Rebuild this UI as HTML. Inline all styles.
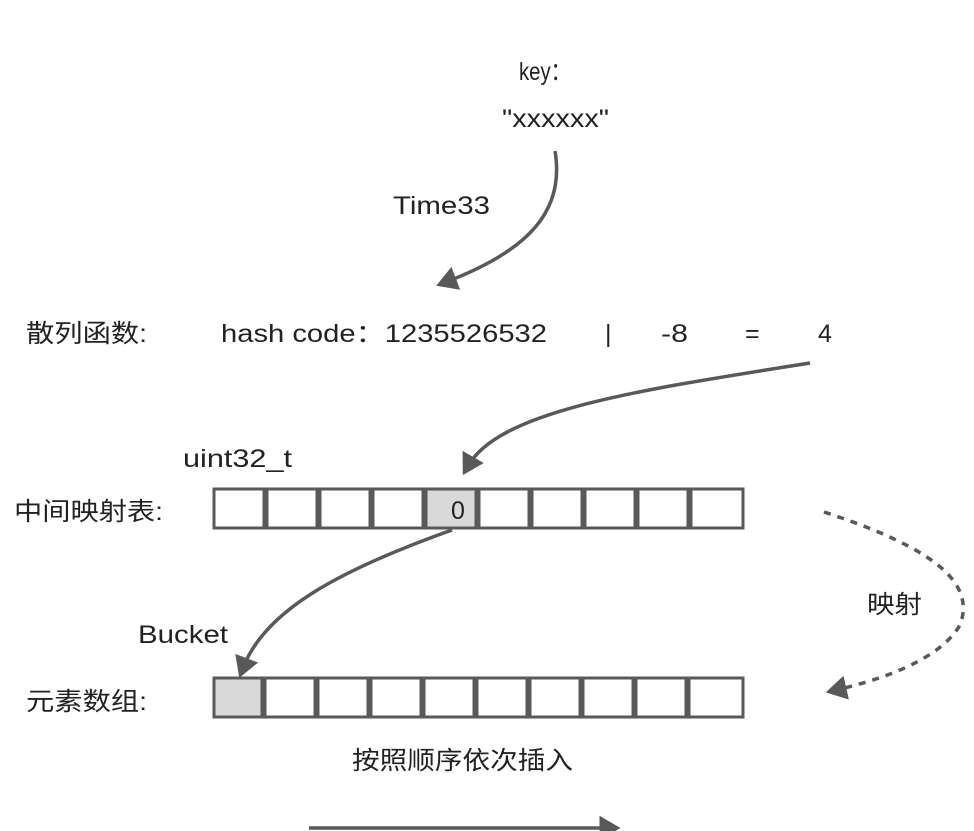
<!DOCTYPE html>
<html><head><meta charset="utf-8"><style>
html,body{margin:0;padding:0;background:#fff;}
svg{display:block}
text{font-family:"Liberation Sans","Noto Sans CJK SC",sans-serif;font-size:25px;fill:#222;}
</style></head><body>
<svg width="974" height="831" viewBox="0 0 974 831" xmlns="http://www.w3.org/2000/svg">
<defs>
<marker id="ah" markerWidth="8" markerHeight="8" refX="3" refY="4" orient="auto" markerUnits="strokeWidth">
<path d="M0,0.5 L6,4 L0,7.5 Z" fill="#595959"/></marker>
</defs>
<text x="519" y="80" textLength="52" lengthAdjust="spacingAndGlyphs">key：</text>
<text x="502" y="127" textLength="107" lengthAdjust="spacingAndGlyphs">"xxxxxx"</text>
<text x="393" y="214" textLength="97" lengthAdjust="spacingAndGlyphs">Time33</text>
<text x="26" y="342" textLength="121" lengthAdjust="spacingAndGlyphs">散列函数:</text>
<text x="221" y="342" textLength="326" lengthAdjust="spacingAndGlyphs">hash code：1235526532</text>
<text x="605" y="342">|</text>
<text x="661" y="342" textLength="27" lengthAdjust="spacingAndGlyphs">-8</text>
<text x="745" y="342">=</text>
<text x="818" y="342">4</text>
<text x="183" y="467" textLength="109" lengthAdjust="spacingAndGlyphs">uint32_t</text>
<text x="14" y="520" textLength="149" lengthAdjust="spacingAndGlyphs">中间映射表:</text>
<text x="138" y="643" textLength="90" lengthAdjust="spacingAndGlyphs">Bucket</text>
<text x="26" y="710" textLength="121" lengthAdjust="spacingAndGlyphs">元素数组:</text>
<text x="867" y="613" textLength="55" lengthAdjust="spacingAndGlyphs">映射</text>
<text x="352" y="769" textLength="221" lengthAdjust="spacingAndGlyphs">按照顺序依次插入</text>

<g fill="#fff" stroke="#595959" stroke-width="3">
<rect x="214" y="489" width="50" height="39"/>
<rect x="267" y="489" width="50" height="39"/>
<rect x="320" y="489" width="50" height="39"/>
<rect x="373" y="489" width="50" height="39"/>
<rect x="426" y="489" width="50" height="39" fill="#d9d9d9"/>
<rect x="479" y="489" width="50" height="39"/>
<rect x="532" y="489" width="50" height="39"/>
<rect x="585" y="489" width="50" height="39"/>
<rect x="638" y="489" width="50" height="39"/>
<rect x="691" y="489" width="52" height="39"/>

<rect x="214" y="678" width="48" height="39" fill="#d9d9d9"/>
<rect x="265" y="678" width="50" height="39"/>
<rect x="318" y="678" width="50" height="39"/>
<rect x="371" y="678" width="50" height="39"/>
<rect x="424" y="678" width="50" height="39"/>
<rect x="477" y="678" width="50" height="39"/>
<rect x="530" y="678" width="50" height="39"/>
<rect x="583" y="678" width="50" height="39"/>
<rect x="636" y="678" width="50" height="39"/>
<rect x="689" y="678" width="54" height="39"/>
</g>
<text x="451" y="519">0</text>

<g fill="none" stroke="#595959" stroke-width="3.5">
<path d="M555,151 C565,210 530,250 446,282" marker-end="url(#ah)"/>
<path d="M810,363 C640,390 500,410 468,466" marker-end="url(#ah)"/>
<path d="M452,530 C340,570 265,610 243,668" marker-end="url(#ah)"/>
<path d="M824,512 C940,550 975,585 960,625 C940,660 880,680 836,690" stroke-dasharray="7,7" marker-end="url(#ah)"/>
<path d="M309,828 L610,828" marker-end="url(#ah)"/>
</g>
</svg>
</body></html>
